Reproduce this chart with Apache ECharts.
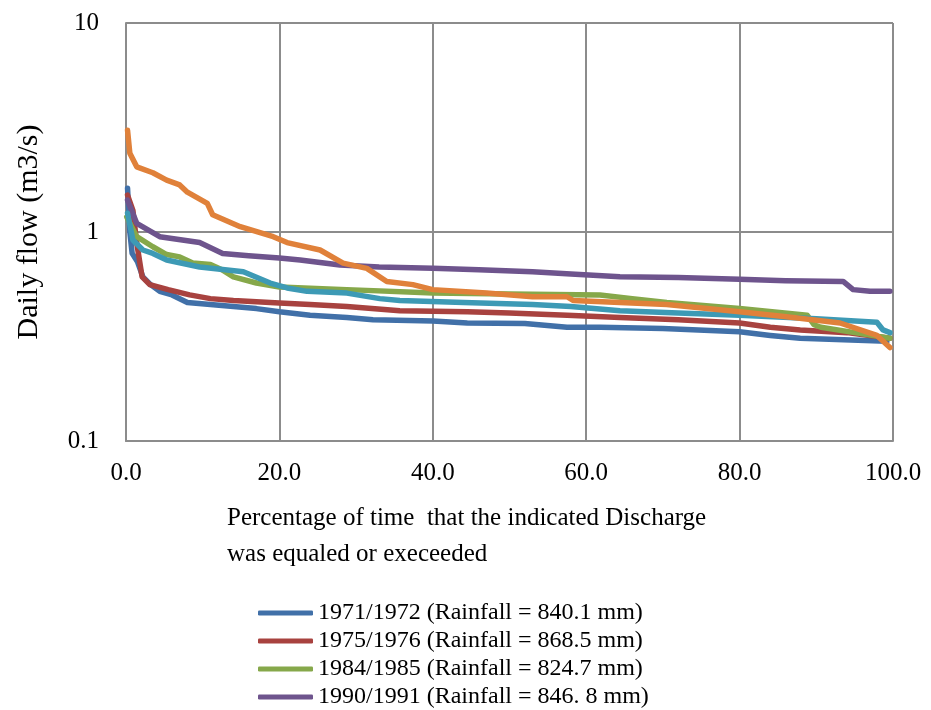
<!DOCTYPE html>
<html>
<head>
<meta charset="utf-8">
<script src="https://cdn.jsdelivr.net/npm/echarts@6/dist/echarts.min.js"></script>
<style>
  html, body { margin: 0; padding: 0; background: #fff; }
  #chart { width: 931px; height: 710px; }
</style>
</head>
<body>
<div id="chart"></div>
<script>
// flow duration curves, [percent of time, daily flow m3/s]
var names = [
  '1971/1972 (Rainfall = 840.1 mm)',
  '1975/1976 (Rainfall = 868.5 mm)',
  '1984/1985 (Rainfall = 824.7 mm)',
  '1990/1991 (Rainfall = 846. 8 mm)'
];
var colors = ['#4170a8', '#a8423f', '#86a84a', '#6e548d', '#3d9ab5', '#e0813a'];

var flow7172 = [
  [0.2, 1.62], [0.5, 1.0], [0.8, 0.79], [1.5, 0.72], [2.2, 0.61], [3.2, 0.56], [4.4, 0.52],
  [6.0, 0.50], [8.0, 0.46], [11, 0.45], [14, 0.44], [17, 0.43], [20, 0.415], [24, 0.40],
  [28.8, 0.39], [32.2, 0.38], [40, 0.375], [44.5, 0.367], [52, 0.365], [57.5, 0.35],
  [61.8, 0.35], [70, 0.345], [80, 0.333], [84, 0.32], [87.9, 0.31], [99.2, 0.30]
];
var flow7576 = [
  [0.2, 1.5], [0.9, 1.27], [1.4, 0.886], [2.1, 0.61], [3.1, 0.56], [5.5, 0.53], [8.3, 0.50],
  [11, 0.48], [14, 0.47], [20, 0.457], [24, 0.45], [28.8, 0.44], [35.7, 0.42], [44.5, 0.415],
  [50, 0.41], [57.5, 0.40], [64.4, 0.39], [72, 0.38], [80, 0.367], [84, 0.35], [87.9, 0.34],
  [94, 0.33], [99.6, 0.31]
];
var flow8485 = [
  [0.1, 1.18], [1.4, 0.95], [3.5, 0.85], [5.3, 0.78], [7.0, 0.76], [8.7, 0.71],
  [11, 0.70], [12.5, 0.66], [14, 0.61], [17, 0.57], [20, 0.545], [28.8, 0.53], [40, 0.51],
  [50, 0.505], [61.8, 0.50], [66, 0.48], [70.5, 0.46], [80, 0.43], [88.8, 0.40],
  [89.7, 0.36], [90.6, 0.35], [95, 0.33], [99.6, 0.31]
];
var flow9091 = [
  [0.2, 1.42], [1.4, 1.10], [4.4, 0.95], [9.6, 0.89], [12.6, 0.79], [16, 0.77], [20, 0.75],
  [22.7, 0.735], [27.9, 0.695], [33, 0.68], [40, 0.67], [46, 0.66], [53, 0.645],
  [58, 0.63], [64.4, 0.61], [72, 0.605], [80, 0.595], [86, 0.585], [93.5, 0.58],
  [94.8, 0.53], [97, 0.52], [99.6, 0.52]
];
var flowTeal = [
  [0.2, 1.23], [0.9, 0.915], [2.2, 0.82], [3.5, 0.79], [5.3, 0.735], [9.6, 0.68],
  [15.3, 0.645], [18.8, 0.57], [21, 0.54], [23.6, 0.52], [28.8, 0.51], [33.1, 0.48],
  [35.7, 0.47], [44, 0.46], [53, 0.45], [58, 0.44], [64.4, 0.42], [72, 0.41], [80, 0.40],
  [90, 0.385], [97.9, 0.37], [98.7, 0.34], [99.6, 0.33]
];
var flowOrange = [
  [0.2, 3.07], [0.5, 2.38], [1.4, 2.05], [3.5, 1.92], [5.3, 1.77], [7.0, 1.68],
  [8.0, 1.55], [10.6, 1.37], [11.3, 1.21], [14.9, 1.06], [19.2, 0.95], [21, 0.89],
  [25.3, 0.82], [28.3, 0.71], [31.4, 0.67], [34, 0.58], [37.4, 0.56], [40, 0.53],
  [47, 0.51], [53, 0.49], [57.5, 0.49], [58.3, 0.47], [64.4, 0.46], [70.5, 0.45],
  [80, 0.415], [87, 0.39], [93.1, 0.367], [97.9, 0.32], [99.6, 0.28]
];

var allData = [flow7172, flow7576, flow8485, flow9091, flowTeal, flowOrange];

var chart = echarts.init(document.getElementById('chart'));
var font = 'Liberation Serif';

var series = allData.map(function (d, i) {
  return {
    name: names[i] || ('s' + i),
    type: 'line',
    data: d,
    showSymbol: false,
    symbol: 'none',
    color: colors[i],
    lineStyle: { width: 5.5, cap: 'round', join: 'round' }
  };
});

var option = {
  animation: false,
  backgroundColor: '#fff',
  grid: { left: 126, right: 38, top: 23, bottom: 269 },
  legend: {
    data: names,
    orient: 'vertical',
    left: 258,
    top: 601,
    padding: 0,
    itemWidth: 55,
    itemHeight: 5,
    itemGap: 4,
    icon: 'roundRect',
    textStyle: { fontFamily: font, fontSize: 24, lineHeight: 24, color: '#000' }
  },
  xAxis: {
    type: 'value',
    min: 0,
    max: 100,
    interval: 20,
    axisLine: { lineStyle: { color: '#8c8c8c', width: 2 } },
    axisTick: { show: false },
    splitLine: { show: true, lineStyle: { color: '#8c8c8c', width: 2 } },
    axisLabel: {
      margin: 20,
      fontFamily: font,
      fontSize: 25,
      color: '#000',
      formatter: function (v) { return v.toFixed(1); }
    }
  },
  yAxis: {
    type: 'log',
    logBase: 10,
    min: 0.1,
    max: 10,
    name: 'Daily flow (m3/s)',
    nameLocation: 'middle',
    nameGap: 82,
    nameTextStyle: { fontFamily: font, fontSize: 30, color: '#000' },
    axisLine: { show: true, lineStyle: { color: '#8c8c8c', width: 2 } },
    axisTick: { show: false },
    splitLine: { show: true, lineStyle: { color: '#8c8c8c', width: 2 } },
    axisLabel: {
      margin: 27,
      fontFamily: font,
      fontSize: 25,
      color: '#000',
      formatter: function (v) { return v >= 1 ? String(Math.round(v)) : v.toFixed(1); }
    }
  },
  graphic: [{
    type: 'text',
    left: 227,
    top: 500,
    style: {
      text: 'Percentage of time  that the indicated Discharge\nwas equaled or execeeded',
      fontFamily: font,
      fontSize: 25,
      lineHeight: 36,
      fill: '#000'
    }
  }],
  series: series
};

chart.setOption(option);
</script>
</body>
</html>
